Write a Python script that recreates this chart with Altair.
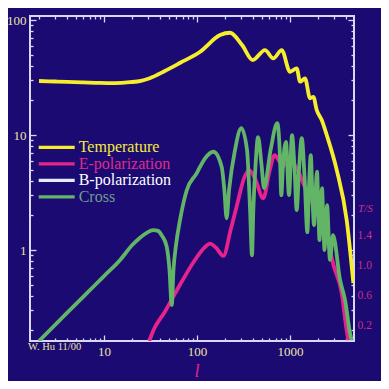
import altair as alt
import pandas as pd

# ---------------- data (multipole l, amplitude in microK) ----------------
series_names = ["Temperature", "E-polarization", "B-polarization", "Cross"]
series_colors = ["#f6ee2c", "#e6238c", "#e4ecff", "#62b467"]
label_colors = ["#f4ec3a", "#e02a8c", "#ffffff", "#6f9f8c"]

temp_l = [2, 3, 4, 6, 9, 13, 19, 25, 31, 45, 66, 108, 177, 226, 305, 397, 538, 661, 814,
          1000, 1180, 1282, 1450, 1641, 1781, 1937, 2193, 2482, 3180, 4070, 4800]
temp_v = [29.5, 29.2, 29.0, 28.7, 28.4, 28.3, 28.8, 29.6, 31.2, 36.0, 42.5, 53.0, 74.0, 77.5,
          60.6, 44.9, 54.8, 46.4, 54.8, 35.5, 38.0, 29.1, 31.1, 20.9, 21.5, 16.5, 13.5, 10.0,
          4.96, 1.82, 0.516]

e_l = [30.7, 33.9, 45, 65.6, 95, 120, 138, 160, 192, 230, 269, 320, 362, 420, 516, 600, 684,
       760, 843, 940, 1026, 1200, 1438, 2000, 2550, 2924, 3600, 4070, 4240]
e_v = [0.162, 0.2, 0.29, 0.5, 0.82, 1.05, 1.14, 1.05, 0.89, 1.5, 2.46, 4.2, 4.96, 4.2, 2.82,
       4.8, 6.7, 6.0, 5.3, 6.3, 6.06, 5.0, 3.55, 2.0, 1.2, 0.75, 0.42, 0.2, 0.165]

cross_l = [2, 4, 6.5, 10, 14.9, 20, 24.4, 29, 33.9, 38, 42.1, 47.2, 50.6, 53.5, 55.8,
           59.4, 65.6, 77.4, 99, 122, 150, 184, 197, 208, 221, 256, 299, 345, 372, 390, 403,
           426, 453, 494, 525, 620, 729, 780, 806, 840, 905, 975, 1051, 1120, 1180, 1250,
           1337, 1440, 1535, 1600, 1671, 1740, 1811, 1880, 1951, 2010, 2075, 2140, 2208,
           2280, 2350, 2420, 2500, 2690, 2897, 3450, 3900, 4415, 4600]
cross_v = [0.162, 0.284, 0.42, 0.594, 0.82, 1.10, 1.28, 1.42, 1.49, 1.47, 1.33, 1.07, 0.67,
           0.333, 0.67, 1.1, 1.82, 3.3, 4.64, 6.28, 7.16, 5.3, 3.3, 1.89, 3.3, 7.4, 11.5, 7.4,
           2.23, 0.9, 2.23, 5.5, 9.6, 5.5, 3.46, 7.5, 12.7, 6.5, 3.0, 5.5, 8.7, 3.0, 10.0,
           5.0, 2.23, 5.0, 9.4, 4.0, 1.43, 3.5, 6.7, 3.0, 1.65, 3.0, 4.8, 2.5, 1.22, 2.2,
           3.46, 1.8, 1.0, 1.6, 2.46, 0.82, 1.35, 0.55, 0.37, 0.19, 0.165]

x_ticks = [2, 3, 4, 5, 6, 7, 8, 9, 10, 20, 30, 40, 50, 60, 70, 80, 90, 100, 200, 300, 400,
           500, 600, 700, 800, 900, 1000, 2000, 3000, 4000]
x_labels = [10, 100, 1000]
y_ticks = [0.2, 0.3, 0.4, 0.5, 0.6, 0.7, 0.8, 0.9, 1, 2, 3, 4, 5, 6, 7, 8, 9, 10, 20, 30, 40,
           50, 60, 70, 80, 90, 100]
y_labels = [1, 10, 100]
ts_labels = [0.2, 0.6, 1.0, 1.4]

# ---------------- style ----------------
BG = "#1b0a72"
FRAME = "#d8d8f4"
KHAKI = "#ece4a6"
MAG = "#e6238c"
MAG2 = "#c8308e"
SERIF = "Liberation Serif, Times New Roman, Times, serif"
W, H = 324, 325


def make_df(name, ls, vs):
    return pd.DataFrame({"series": name, "l": ls, "v": vs, "order": range(len(ls))})


df_t = make_df("Temperature", temp_l, temp_v)
df_e = make_df("E-polarization", e_l, e_v)
df_c = make_df("Cross", cross_l, cross_v)

xscale = alt.Scale(type="log", domain=[1.6, 4875], nice=False)
yscale = alt.Scale(type="log", domain=[0.162, 108.4], nice=False)
cscale = alt.Scale(domain=series_names, range=series_colors)

major = "abs(log(datum.value)/LN10 - round(log(datum.value)/LN10)) < 0.01"
tsize = {"condition": {"test": major, "value": 6}, "value": 3}

label_expr = " : ".join(
    f"datum.value === '{n}' ? '{c}'" for n, c in zip(series_names[:-1], label_colors[:-1])
) + f" : '{label_colors[-1]}'"

legend = alt.Legend(
    title=None, orient="none", legendX=18.7, legendY=123.3, direction="vertical",
    symbolType="M-3,0H3", symbolStrokeWidth=3.2, symbolSize=144,
    labelFont=SERIF, labelFontSize=16, labelOffset=14, rowPadding=0.5, labelLimit=0,
    labelColor={"expr": label_expr},
)

# axis carrying labels (bottom / left)
ax_lab = alt.Axis(orient="bottom", values=x_labels, format="d", ticks=False, tickSize=0,
                  domain=False, grid=False, labelColor=KHAKI, labelFont=SERIF,
                  labelFontSize=13, labelPadding=4,
                  title="l", titleFont=SERIF, titleFontStyle="italic", titleFontWeight="normal",
                  titleFontSize=18, titleColor=MAG, titleX=166.5, titleY=35,
                  titleBaseline="alphabetic")
ay_lab = alt.Axis(orient="left", values=y_labels, format="d", ticks=False, tickSize=0,
                  domain=False, grid=False, labelColor=KHAKI, labelFont=SERIF,
                  labelFontSize=13, labelPadding=4, title=None)


def tick_axis(orient, values, offset):
    return alt.Axis(orient=orient, offset=offset, values=values, labels=False, domain=False,
                    grid=False, title=None, tickColor=FRAME, tickWidth=1.3, tickSize=tsize)


# inward ticks: opposite orient pushed across the plot
ax_bot = tick_axis("top", x_ticks, -H)
ax_top = tick_axis("bottom", x_ticks, -H)
ay_left = tick_axis("right", y_ticks, -W)
ay_right = tick_axis("left", y_ticks, -W)


def line_layer(df, xaxis, yaxis):
    return alt.Chart(df).mark_line(strokeWidth=3.8, clip=True, interpolate="monotone").encode(
        x=alt.X("l:Q", scale=xscale, axis=xaxis),
        y=alt.Y("v:Q", scale=yscale, axis=yaxis),
        color=alt.Color("series:N", scale=cscale, legend=legend),
        order="order:Q",
    )


e_layer = line_layer(df_e, ax_lab, ay_lab)
c_layer = line_layer(df_c, ax_bot, ay_left)
t_layer = line_layer(df_t, ax_top, ay_right)

credit = alt.Chart(pd.DataFrame({"t": ["W. Hu 11/00"]})).mark_text(
    align="left", baseline="alphabetic", font=SERIF, fontSize=10.5, color=KHAKI
).encode(x=alt.value(-2), y=alt.value(333.5), text="t:N")

ts_title = alt.Chart(pd.DataFrame({"t": ["T/S"]})).mark_text(
    align="left", baseline="middle", font=SERIF, fontSize=11, fontStyle="italic", color=MAG2
).encode(x=alt.value(328), y=alt.value(193), text="t:N")

inner = alt.layer(e_layer, c_layer, t_layer, credit, ts_title).resolve_axis(
    x="independent", y="independent")

ts_layer = alt.Chart(pd.DataFrame({"ts": ts_labels})).mark_point(opacity=0).encode(
    x=alt.value(0),
    y=alt.Y("ts:Q", scale=alt.Scale(domain=[0, 4.333], nice=False, zero=False),
            axis=alt.Axis(orient="right", values=ts_labels, format=".1f", ticks=False,
                          tickSize=0, domain=False, grid=False, labelColor=MAG2,
                          labelFont=SERIF, labelFontSize=11.5, labelPadding=3, title=None)),
)

chart = alt.layer(inner, ts_layer).resolve_scale(y="independent").resolve_axis(
    x="independent", y="independent"
).properties(
    width=W, height=H, autosize="none",
    padding={"left": 22, "top": 8, "right": 27, "bottom": 40},
    background=BG,
).configure_view(stroke=FRAME, strokeWidth=2)

chart.save("out.html", embed_options={"renderer": "svg", "actions": False})
